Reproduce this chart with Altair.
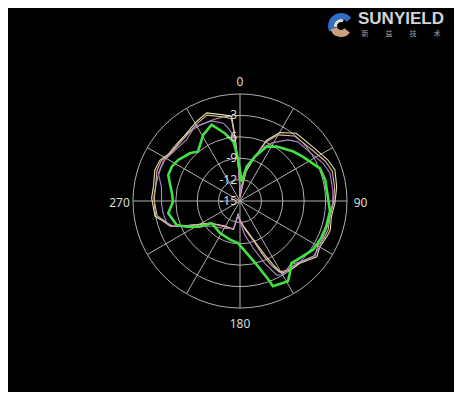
import math
import altair as alt
import pandas as pd

# ---------------- data (angle in degrees clockwise from top, gain in dB) ----------------
yellow_ang = [1, 9, 18, 23.6, 30.2, 39.7, 54.8, 65, 71.9, 81.6, 91.4, 99.7, 107.9, 112.4, 119.7, 126,
              136.1, 143, 150, 152, 155.3, 160, 170, 180, 188, 193, 211, 233.7, 241.3, 247.1, 250.1,
              255.2, 259.8, 271.9, 279.4, 290, 297.1, 304.3, 311.5, 321.8, 331.4, 339.3, 349, 354.4,
              355.6, 358.5]
yellow_db = [-14.5, -11.3, -8.7, -5.7, -3.9, -2.65, -2.2, -1.4, -1.0, -1.3, -1.7, -2.0, -1.7, -1.85, -2.1, -1.7,
             -2.9, -3.0, -3.3, -4.6, -6.7, -9.0, -11.2, -12.3, -13.1, -10.9, -10.9, -9.8, -8.1, -5.9, -4.6,
             -3.9, -2.9, -2.6, -2.7, -2.3, -2.4, -3.1, -3.15, -2.9, -2.3, -1.8, -2.7, -3.1,
             -6.0, -11.5]

peach_ang = [1, 12, 18, 23.6, 30, 40, 55, 65, 72, 82, 91, 100, 108, 113, 120, 126, 136, 146, 151, 154,
             157, 161, 170, 180, 188, 193, 211, 233, 241, 247, 250, 255, 260, 272, 280, 290, 297, 304,
             312, 322, 331, 339, 349, 354, 355.6, 358]
peach_db = [-14.3, -10.2, -8.8, -6.0, -4.3, -3.1, -2.6, -1.8, -1.4, -1.6, -1.9, -2.2, -2.0, -2.1, -2.4, -2.0,
            -3.0, -3.3, -3.6, -5.0, -6.8, -9.0, -11.0, -12.3, -13.0, -11.0, -10.8, -9.8, -8.1, -6.0, -4.8,
            -4.1, -3.2, -2.9, -3.0, -2.6, -2.6, -3.2, -3.3, -3.1, -2.6, -2.1, -3.0, -3.4, -6.2, -11.0]

violet_ang = [1, 8, 15, 22, 29.5, 38.2, 44.4, 56.2, 65.6, 72.8, 83.3, 90.6, 104.2, 113.2, 119.7, 127.2,
              135.3, 142, 149.7, 153.6, 158.3, 164.5, 172, 180.8, 187, 193, 212, 228.2, 239.7, 244.6,
              249.2, 253.3, 259.9, 267.3, 280.4, 288.7, 297.1, 306.5, 318.9, 328.8, 340.6, 347.9, 350.9,
              354.2, 357, 359]
violet_db = [-14.0, -11.5, -9.2, -7.0, -5.6, -4.1, -3.4, -3.0, -2.2, -1.8, -1.9, -2.0, -2.2, -2.3, -2.1, -2.1,
             -3.0, -3.6, -3.0, -3.4, -5.6, -8.2, -10.2, -12.2, -13.0, -11.0, -10.5, -9.7, -8.0, -6.7,
             -5.0, -4.3, -4.1, -4.0, -3.8, -2.9, -2.9, -3.4, -3.6, -2.8, -3.1, -3.85, -4.7,
             -5.7, -9.0, -13.0]

green_ang = [5, 11, 18.7, 26.2, 34, 47.2, 55, 67.8, 76.1, 88, 96.5, 106.3, 114.5, 123.7, 133.7, 140.4,
             145.4, 149.1, 158.9, 159.7, 164.6, 171.5, 182.7, 194.5, 211.8, 231.8, 237.3, 244.3, 249.2,
             260.3, 269.4, 276.4, 289.9, 296.7, 303.6, 313.6, 319.8, 324.5, 330.9, 339.6, 347.5, 353.6,
             356, 357.6]
green_db = [-12.3, -10.1, -8.4, -6.5, -5.8, -4.8, -4.2, -2.9, -2.7, -2.65, -2.3, -2.4, -2.5, -2.7, -3.4, -3.7,
            -2.7, -1.9, -2.2, -3.0, -5.5, -7.4, -9.1, -9.4, -9.7, -9.95, -8.3, -6.7, -5.5,
            -4.8, -5.6, -5.4, -4.3, -4.3, -4.6, -5.3, -5.9, -5.35, -4.4, -3.6, -5.3, -6.6,
            -8.3, -9.25]

series_names = ["yellow", "peach", "violet", "green"]
series_colors = ["#e6e0a6", "#e2b4a4", "#b084c8", "#42e042"]

ring_values = [-3, -6, -9, -12, -15]
ring_labels = ["-3", "-6", "-9", "-12", "-15"]
grid_circles = [-12, -9, -6, -3, 0]
spoke_angles = [0, 30, 60, 90, 120, 150, 180, 210, 240, 270, 300, 330]
angle_labels = ["0", "90", "180", "270"]
angle_label_angles = [0, 90, 180, 270]
logo_chars = ["新", "益", "技", "术"]

# ---------------- geometry ----------------
DB_MIN = -15.0
PX_PER_DB = 107.0 / 15.0
W = H = 300
HALF = (W / 2) / PX_PER_DB
LABEL_R = 16.9
TAU = 2 * math.pi

xs = alt.Scale(domain=[-HALF, HALF], nice=False, zero=False)
ys = alt.Scale(domain=[-HALF, HALF], nice=False, zero=False)


def trace(name, ang, db):
    rows = [{"series": name, "i": i, "ang": a, "db": d} for i, (a, d) in enumerate(zip(ang, db))]
    rows.append({"series": name, "i": len(ang), "ang": ang[0], "db": db[0]})
    return rows


rows = []
for n, a, d in [("yellow", yellow_ang, yellow_db), ("peach", peach_ang, peach_db),
                ("violet", violet_ang, violet_db), ("green", green_ang, green_db)]:
    rows += trace(n, a, d)
traces = pd.DataFrame(rows)

base_tr = alt.Chart(traces).transform_calculate(
    r=f"datum.db - ({DB_MIN})"
).transform_calculate(
    x="datum.r * sin(datum.ang * PI / 180)",
    y="datum.r * cos(datum.ang * PI / 180)",
)

color_scale = alt.Scale(domain=series_names, range=series_colors)

thin = base_tr.transform_filter("datum.series != 'green'").mark_line(strokeWidth=1.1).encode(
    x=alt.X("x:Q", scale=xs, axis=None),
    y=alt.Y("y:Q", scale=ys, axis=None),
    order="i:Q",
    color=alt.Color("series:N", scale=color_scale, legend=None),
)
thick = base_tr.transform_filter("datum.series == 'green'").mark_line(strokeWidth=2.6).encode(
    x=alt.X("x:Q", scale=xs, axis=None),
    y=alt.Y("y:Q", scale=ys, axis=None),
    order="i:Q",
    color=alt.Color("series:N", scale=color_scale, legend=None),
)

# grid circles (symbol size = diameter^2 in px)
circ = alt.Chart(pd.DataFrame({"db": grid_circles})).transform_calculate(
    r=f"datum.db - ({DB_MIN})", x0="0", y0="0"
).transform_calculate(
    sz=f"pow(2 * datum.r * {PX_PER_DB}, 2)"
).mark_point(shape="circle", filled=False, stroke="#b0b0b0", strokeWidth=1, opacity=1).encode(
    x=alt.X("x0:Q", scale=xs, axis=None),
    y=alt.Y("y0:Q", scale=ys, axis=None),
    size=alt.Size("sz:Q", scale=None, legend=None),
)

# spokes
spokes = alt.Chart(pd.DataFrame({"ang": spoke_angles})).transform_calculate(
    x=f"{-DB_MIN} * sin(datum.ang * PI / 180)",
    y=f"{-DB_MIN} * cos(datum.ang * PI / 180)",
    x0="0",
    y0="0",
).mark_rule(color="#b0b0b0", strokeWidth=1).encode(
    x=alt.X("x0:Q", scale=xs, axis=None),
    y=alt.Y("y0:Q", scale=ys, axis=None),
    x2="x:Q",
    y2="y:Q",
)

# ring labels
rl = alt.Chart(pd.DataFrame({"db": ring_values, "lab": ring_labels})).transform_calculate(
    r=f"datum.db - ({DB_MIN})", x0="0"
).mark_text(align="right", baseline="middle", dx=-3, fontSize=12, font="Noto Sans", color="#dcdcdc").encode(
    x=alt.X("x0:Q", scale=xs, axis=None),
    y=alt.Y("r:Q", scale=ys, axis=None),
    text="lab:N",
)

# angle labels
al = alt.Chart(pd.DataFrame({"ang": angle_label_angles, "lab": angle_labels})).transform_calculate(
    x=f"{LABEL_R} * sin(datum.ang * PI / 180)",
    y=f"{LABEL_R} * cos(datum.ang * PI / 180)",
).mark_text(align="center", baseline="middle", dy=2, fontSize=12, font="Noto Sans", color="#dcdcdc").encode(
    x=alt.X("x:Q", scale=xs, axis=None),
    y=alt.Y("y:Q", scale=ys, axis=None),
    text="lab:N",
)

# logo (decoration)
one = pd.DataFrame({"k": [0]})
logo_text = alt.Chart(one).mark_text(
    align="left", baseline="alphabetic", fontSize=17, fontWeight="bold", font="Liberation Sans",
    color="#d4d4d4").encode(x=alt.value(268), y=alt.value(-27), text=alt.value("SUNYIELD"))

cn = pd.DataFrame({"c": logo_chars, "k": [0, 1, 2, 3]})
logo_cn = alt.Chart(cn).transform_calculate(px="275 + datum.k * 24").mark_text(
    align="center", baseline="middle", fontSize=7, font="Noto Sans CJK SC", color="#a0a0a0"
).encode(x=alt.X("px:Q", scale=None), y=alt.value(-17.5), text="c:N")

SW_X, SW_Y = 251, -25
swirl_blue = alt.Chart(one).mark_arc(theta=TAU - 2.0, theta2=TAU + 0.9, innerRadius=7, outerRadius=13,
                                     color="#2f6fc4").encode(x=alt.value(SW_X), y=alt.value(SW_Y))
swirl_white = alt.Chart(one).mark_arc(theta=TAU - 1.8, theta2=TAU + 0.4, innerRadius=4, outerRadius=7,
                                      color="#d8dde4").encode(x=alt.value(SW_X), y=alt.value(SW_Y))
swirl_tan = alt.Chart(one).mark_arc(theta=2.2, theta2=4.4, innerRadius=4, outerRadius=11,
                                    color="#c9a27a").encode(x=alt.value(SW_X), y=alt.value(SW_Y))

chart = alt.layer(
    circ, spokes, thin, thick, rl, al, logo_text, logo_cn, swirl_blue, swirl_white, swirl_tan
).properties(
    width=W, height=H,
    background="#000000",
    padding={"left": 82, "top": 43, "right": 64, "bottom": 41},
    autosize=alt.AutoSizeParams(type="none"),
).configure_view(stroke=None)

chart.save("out.html", embed_options={"renderer": "svg", "actions": False})
